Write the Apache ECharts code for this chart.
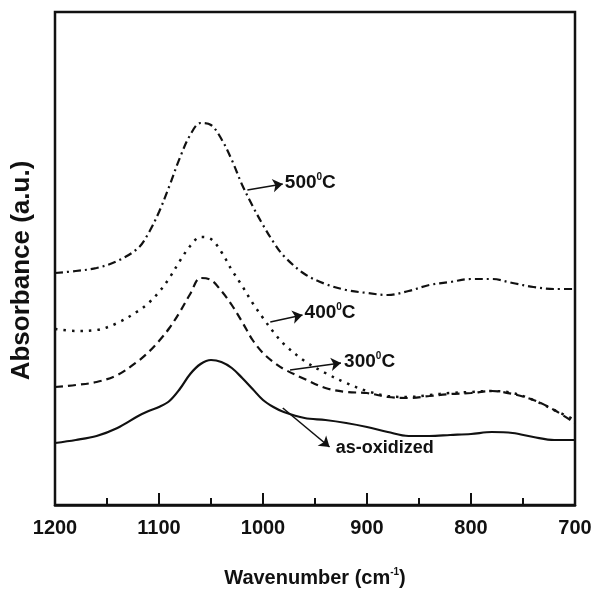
<!DOCTYPE html>
<html>
<head>
<meta charset="utf-8">
<script src="https://cdn.jsdelivr.net/npm/echarts@6/dist/echarts.min.js"></script>
<style>
  html, body { margin: 0; padding: 0; background: #fff; }
  #chart { width: 605px; height: 594px; }
</style>
</head>
<body>
<div id="chart"></div>
<script>
// wavenumber (cm-1), shared by all four spectra
var wavenumbers = [1200, 1180, 1160, 1140, 1120, 1110, 1100, 1090, 1080, 1070,
  1060, 1050, 1040, 1030, 1020, 1010, 1000, 990, 980, 960,
  940, 920, 900, 880, 860, 840, 820, 800, 780, 760, 740, 720, 700];

// absorbance (a.u.), curves offset vertically as in the figure
var abs500 = [2.32, 2.34, 2.37, 2.44, 2.57, 2.72, 2.93, 3.19, 3.47, 3.70,
  3.82, 3.80, 3.66, 3.45, 3.20, 2.99, 2.80, 2.63, 2.49, 2.31,
  2.21, 2.15, 2.12, 2.10, 2.14, 2.20, 2.23, 2.26, 2.26, 2.22, 2.18, 2.16, 2.16];
var abs400 = [1.76, 1.74, 1.75, 1.82, 1.94, 2.02, 2.13, 2.27, 2.44, 2.59,
  2.68, 2.66, 2.53, 2.35, 2.19, 2.02, 1.87, 1.73, 1.61, 1.44,
  1.32, 1.22, 1.14, 1.09, 1.08, 1.10, 1.12, 1.13, 1.14, 1.12, 1.05, 0.95, 0.85];
var abs300 = [1.18, 1.20, 1.23, 1.30, 1.44, 1.53, 1.64, 1.77, 1.93, 2.11,
  2.27, 2.25, 2.14, 2.00, 1.83, 1.65, 1.52, 1.43, 1.36, 1.26,
  1.17, 1.13, 1.12, 1.08, 1.07, 1.09, 1.11, 1.12, 1.14, 1.11, 1.05, 0.95, 0.82];
var absOxidized = [0.62, 0.65, 0.69, 0.77, 0.89, 0.94, 0.98, 1.04, 1.16, 1.31,
  1.41, 1.45, 1.43, 1.37, 1.27, 1.16, 1.05, 0.98, 0.93, 0.87,
  0.85, 0.82, 0.78, 0.73, 0.69, 0.69, 0.70, 0.71, 0.73, 0.72, 0.68, 0.65, 0.65];

var seriesNames = ['500', '400', '300', 'as-oxidized'];
var labelTexts = ['{n|500}{s|0}{n|C}', '{n|400}{s|0}{n|C}', '{n|300}{s|0}{n|C}', '{m|as-oxidized}'];

// arrow [from, to] and label anchor, in data units
var arrows = [
  [[1015, 3.15], [981, 3.21]],
  [[993, 1.83], [962, 1.90]],
  [[974, 1.35], [925, 1.42]],
  [[981, 0.97], [936, 0.58]]
];
var labelAt = [[979, 3.22], [960, 1.92], [922, 1.43], [930, 0.57]];

var dashTypes = [[8, 4, 2, 4], [2.5, 6], [8, 5], 'solid'];
var valuesList = [abs500, abs400, abs300, absOxidized];

var font = '"Liberation Sans", Arial, sans-serif';
var richLabel = {
  n: { fontFamily: font, fontWeight: 'bold', fontSize: 19, color: '#111', lineHeight: 22 },
  m: { fontFamily: font, fontWeight: 'bold', fontSize: 18, color: '#111', lineHeight: 22 },
  s: { fontFamily: font, fontWeight: 'bold', fontSize: 10, color: '#111', verticalAlign: 'top', lineHeight: 12 }
};

var chart = echarts.init(document.getElementById('chart'));

var series = valuesList.map(function (vals, i) {
  return {
    name: seriesNames[i],
    type: 'line',
    smooth: 0.35,
    symbol: 'none',
    silent: true,
    data: wavenumbers.map(function (w, j) { return [w, vals[j]]; }),
    lineStyle: { color: '#111', width: i === 1 ? 2.5 : 2.2, type: dashTypes[i] },
    markLine: {
      silent: true,
      symbol: ['none', 'arrow'],
      symbolSize: [10, 10],
      lineStyle: { color: '#111', width: 1.6, type: 'solid' },
      label: { show: false },
      data: [[{ coord: arrows[i][0] }, { coord: arrows[i][1] }]]
    },
    markPoint: {
      silent: true,
      symbol: 'circle',
      symbolSize: 0,
      label: {
        show: true,
        position: 'right',
        distance: 0,
        formatter: labelTexts[i],
        rich: richLabel
      },
      data: [{ coord: labelAt[i] }]
    }
  };
});

var option = {
  animation: false,
  backgroundColor: '#fff',
  grid: {
    left: 55, right: 30, top: 12, bottom: 89,
    show: true, borderColor: '#111', borderWidth: 2.5
  },
  xAxis: {
    type: 'value',
    min: 700,
    max: 1200,
    interval: 100,
    inverse: true,
    name: '{t|Wavenumber (cm}{s|-1}{t|)}',
    nameLocation: 'middle',
    nameGap: 62,
    nameTextStyle: {
      rich: {
        t: { fontFamily: font, fontWeight: 'bold', fontSize: 20, color: '#111', lineHeight: 22 },
        s: { fontFamily: font, fontWeight: 'bold', fontSize: 10, color: '#111', verticalAlign: 'top', lineHeight: 12 }
      }
    },
    axisLine: { show: true, lineStyle: { color: '#111', width: 2.5 } },
    axisTick: { show: true, inside: true, length: 12, lineStyle: { color: '#111', width: 2 } },
    minorTick: { show: true, splitNumber: 2, length: 7, lineStyle: { color: '#111', width: 2 } },
    splitLine: { show: false },
    axisLabel: {
      margin: 13,
      fontFamily: font,
      fontWeight: 'bold',
      fontSize: 20,
      color: '#111',
      formatter: function (v) { return String(v); }
    }
  },
  yAxis: {
    type: 'value',
    min: 0,
    max: 4.93,
    name: 'Absorbance (a.u.)',
    nameLocation: 'middle',
    nameRotate: 90,
    nameGap: 20,
    nameTextStyle: {
      fontFamily: font,
      fontWeight: 'bold',
      fontSize: 26,
      color: '#111',
      padding: [0, 24, 0, 0]
    },
    axisLine: { show: false },
    axisTick: { show: false },
    axisLabel: { show: false },
    splitLine: { show: false }
  },
  series: series
};

chart.setOption(option);
</script>
</body>
</html>
